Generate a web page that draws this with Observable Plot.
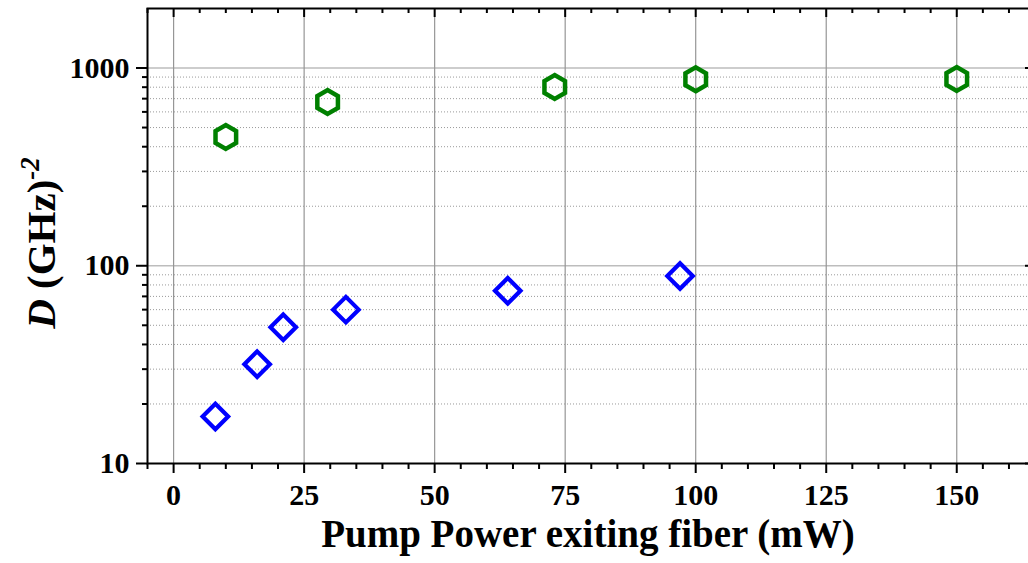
<!DOCTYPE html>
<html>
<head>
<meta charset="utf-8">
<script src="https://cdn.jsdelivr.net/npm/d3@7"></script>
<script src="https://cdn.jsdelivr.net/npm/@observablehq/plot@0.6"></script>
<style>
  html, body { margin: 0; padding: 0; background: #fff; overflow: hidden; }
  #chart svg { display: block; }
</style>
</head>
<body>
<div id="chart"></div>
<script>
// Measured D versus pump power, two data sets (log scale on D)
const greenPower = [10, 29.5, 73, 100, 150];
const greenD = [448, 673, 802, 877, 880];
const bluePower = [8, 16, 21, 33, 64, 97];
const blueD = [17.3, 31.8, 48.9, 60.0, 74.8, 88.7];

// Axis ticks
const xTicks = [0, 25, 50, 75, 100, 125, 150];
const xMinorTicks = [-5, 5, 10, 15, 20, 30, 35, 40, 45, 55, 60, 65, 70, 80, 85, 90, 95,
  105, 110, 115, 120, 130, 135, 140, 145, 155, 160];
const yTicks = [10, 100, 1000];
const yMinorTicks = [20, 30, 40, 50, 60, 70, 80, 90, 200, 300, 400, 500, 600, 700, 800, 900];

const greenSeries = greenPower.map((p, i) => ({power: p, d: greenD[i]}));
const blueSeries = bluePower.map((p, i) => ({power: p, d: blueD[i]}));

const W = 1033, H = 563;
const mL = 147, mR = 0, mT = 8, mB = 100;
const innerW = W - mL - mR, innerH = H - mT - mB;
const font = "'Liberation Serif', 'Times New Roman', serif";

const chart = Plot.plot({
  width: W,
  height: H,
  marginLeft: mL,
  marginRight: mR,
  marginTop: mT,
  marginBottom: mB,
  style: {maxWidth: "none", background: "#fff", overflow: "visible", fontFamily: font, color: "#000"},
  x: {domain: [-5, 164.7], axis: null},
  y: {type: "log", domain: [10, 2000], axis: null},
  marks: [
    // grid
    Plot.ruleY(yMinorTicks, {y: d => d, stroke: "#9a9a9a", strokeWidth: 1, strokeDasharray: "1,2"}),
    Plot.ruleY(yTicks.filter(d => d > 10), {y: d => d, stroke: "#bdbdbd", strokeWidth: 1.6}),
    Plot.ruleX(xTicks, {x: d => d, stroke: "#969696", strokeWidth: 1.2}),
    // bottom axis
    Plot.axisX(xTicks, {
      anchor: "bottom", tickSize: 10, tickPadding: 10, strokeWidth: 2,
      tickFormat: d => String(d), fontSize: 30, fontWeight: "bold",
      fill: "#000", label: null
    }),
    Plot.axisX(xMinorTicks, {anchor: "bottom", tickSize: 6, strokeWidth: 2, tickFormat: () => "", label: null}),
    // left axis
    Plot.axisY(yTicks, {
      anchor: "left", tickSize: 11, tickPadding: 7, strokeWidth: 2,
      tickFormat: d => String(d), fontSize: 30, fontWeight: "bold",
      fill: "#000", label: null
    }),
    Plot.axisY(yMinorTicks, {anchor: "left", tickSize: 5, strokeWidth: 2, tickFormat: () => "", label: null}),
    // inward ticks on the top and right edges
    Plot.tickX(xTicks, {x: d => d, stroke: "#000", strokeWidth: 2, insetBottom: innerH - 9}),
    Plot.tickX(xMinorTicks, {x: d => d, stroke: "#000", strokeWidth: 2, insetBottom: innerH - 5}),
    Plot.tickY(yTicks, {y: d => d, stroke: "#000", strokeWidth: 2, insetLeft: innerW - 8}),
    Plot.tickY(yMinorTicks, {y: d => d, stroke: "#000", strokeWidth: 2, insetLeft: innerW - 5}),
    Plot.frame({stroke: "#000", strokeWidth: 2}),
    // data
    Plot.dot(greenSeries, {x: "power", y: "d", symbol: "hexagon", r: 10.3, stroke: "#008000", strokeWidth: 4.5, fill: "none"}),
    Plot.dot(blueSeries, {x: "power", y: "d", symbol: "diamond2", r: 11.5, stroke: "#0000ff", strokeWidth: 4.2, fill: "none"})
  ]
});

const svg = d3.select(chart);

// tick labels in the serif face used throughout
svg.selectAll("text")
  .style("font-family", font)
  .style("font-variant", "normal")
  .style("font-weight", "bold");

// x-axis title
svg.append("text")
  .attr("x", mL + (W - 4 - mL) / 2)
  .attr("y", 547)
  .attr("text-anchor", "middle")
  .style("font-family", font)
  .style("font-weight", "bold")
  .style("font-size", "39px")
  .attr("fill", "#000")
  .text("Pump Power exiting fiber (mW)");

// y-axis title: D (GHz)^-2
const yl = svg.append("text")
  .attr("transform", "translate(55,243) rotate(-90)")
  .attr("text-anchor", "middle")
  .style("font-family", font)
  .style("font-weight", "bold")
  .style("font-size", "41px")
  .attr("fill", "#000");
yl.append("tspan").style("font-style", "italic").text("D");
yl.append("tspan").text(" (GHz)");
yl.append("tspan").attr("dy", -16).style("font-size", "27px").style("font-style", "italic").text("-2");

document.getElementById("chart").appendChild(chart);
</script>
</body>
</html>
